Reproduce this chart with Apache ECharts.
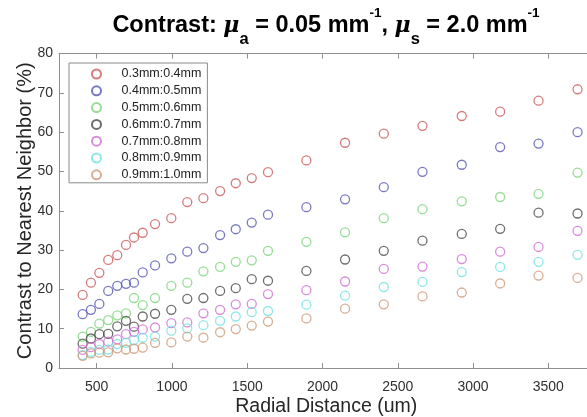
<!DOCTYPE html>
<html><head><meta charset="utf-8">
<script src="https://cdn.jsdelivr.net/npm/echarts@6/dist/echarts.min.js"></script>
<style>html,body{margin:0;padding:0;background:#fff}#c{width:587px;height:417px}</style>
</head><body><div id="c"></div>
<script>
// Radial distance positions (um)
const radialDistance = [407, 462, 518, 577, 637, 695, 748, 806, 888, 996, 1102, 1209, 1320, 1424, 1530, 1638, 1893, 2150, 2407, 2664, 2925, 3180, 3435, 3694];
// Contrast to nearest neighbor (%)
const c03_04 = [18.6, 21.7, 24.2, 27.5, 28.7, 31.3, 33.2, 34.4, 36.6, 38.1, 42.2, 43.2, 45.0, 47.0, 48.3, 49.8, 52.8, 57.3, 59.6, 61.6, 64.1, 65.2, 68.0, 70.9];
const c04_05 = [13.7, 14.8, 16.3, 19.6, 20.9, 21.4, 21.7, 24.3, 26.1, 27.9, 29.6, 30.5, 33.8, 35.3, 37.0, 39.0, 40.9, 42.9, 46.0, 49.9, 51.7, 56.2, 57.1, 60.0];
const c05_06 = [8.0, 9.2, 11.3, 12.2, 13.4, 13.9, 17.8, 16.0, 17.8, 20.9, 21.7, 24.6, 25.7, 27.0, 27.4, 29.8, 32.1, 34.5, 38.1, 40.4, 42.4, 43.5, 44.3, 49.7];
const c06_07 = [6.2, 7.5, 8.6, 8.7, 10.6, 12.0, 10.5, 13.1, 13.8, 14.8, 17.6, 17.8, 19.6, 20.3, 22.6, 22.2, 24.7, 27.6, 29.8, 32.4, 34.1, 35.4, 39.5, 39.3];
const c07_08 = [4.6, 5.3, 6.1, 6.7, 7.3, 8.6, 9.2, 9.8, 10.3, 11.4, 11.6, 13.9, 14.8, 16.2, 16.3, 18.8, 19.8, 22.0, 25.2, 25.8, 27.7, 29.6, 30.8, 34.9];
const c08_09 = [3.3, 4.1, 4.6, 4.7, 6.1, 6.4, 7.1, 7.7, 8.0, 9.5, 10.1, 10.9, 12.0, 13.1, 14.2, 14.5, 16.1, 18.4, 20.6, 21.9, 24.4, 25.7, 27.0, 28.8];
const c09_10 = [3.1, 3.7, 3.9, 4.0, 5.0, 4.7, 4.9, 5.2, 6.4, 6.5, 8.0, 7.7, 9.1, 9.9, 10.8, 11.8, 12.6, 15.1, 16.2, 18.2, 19.2, 21.5, 23.5, 22.9];
const seriesNames = ['0.3mm:0.4mm', '0.4mm:0.5mm', '0.5mm:0.6mm', '0.6mm:0.7mm', '0.7mm:0.8mm', '0.8mm:0.9mm', '0.9mm:1.0mm'];
const seriesValues = [c03_04, c04_05, c05_06, c06_07, c07_08, c08_09, c09_10];
const seriesColors = ['#cc5a5a', '#5858b4', '#7cd47c', '#4a4a4a', '#d26ed2', '#72e2e2', '#d09a7a'];
const xTickValues = [500, 1000, 1500, 2000, 2500, 3000, 3500];

const axisCol = '#8f8f8f';
const labelCol = '#303030';
const chart = echarts.init(document.getElementById('c'));

const series = seriesNames.map((name, i) => ({
  name, type: 'scatter', xAxisIndex: 0, yAxisIndex: 0,
  symbol: 'circle', symbolSize: 9,
  itemStyle: { color: 'rgba(255,255,255,0)', borderColor: seriesColors[i], borderWidth: 1.3 },
  emphasis: { disabled: true },
  data: radialDistance.map((x, k) => [x, seriesValues[i][k]])
}));

const sans = 'Liberation Sans';
chart.setOption({
  animation: false,
  backgroundColor: '#fff',
  title: {
    left: 321, top: 8, textAlign: 'center',
    text: '{t|Contrast: }{mu|μ}{sub|a}{t| = 0.05 mm}{sup|-1}{t|, }{mu|μ}{sub|s}{t| = 2.0 mm}{sup|-1}',
    textStyle: {
      rich: {
        t: { fontFamily: sans, fontWeight: 'bold', fontSize: 23.5, color: '#000', lineHeight: 26 },
        mu: { fontFamily: 'DejaVu Serif', fontStyle: 'italic', fontSize: 22, color: '#000', lineHeight: 26 },
        sub: { fontFamily: sans, fontWeight: 'bold', fontSize: 16.5, color: '#000', lineHeight: 18, padding: [26, 0, 0, 0] },
        sup: { fontFamily: sans, fontWeight: 'bold', fontSize: 13.5, color: '#000', lineHeight: 16, padding: [0, 0, 26, 0] }
      }
    }
  },
  legend: {
    orient: 'vertical', left: 69, top: 63,
    padding: [4, 6, 1, 22],
    itemWidth: 10, itemHeight: 9, itemGap: 2.8,
    backgroundColor: '#fff', borderColor: '#8a8a8a', borderWidth: 1, borderRadius: 0,
    textStyle: { fontFamily: sans, fontSize: 12.5, color: '#222', lineHeight: 14, padding: [0, 0, 0, 15] },
    data: seriesNames
  },
  grid: { left: 59, top: 53.5, width: 534.5, height: 314.5, containLabel: false, outerBoundsMode: 'none' },
  xAxis: [{
    type: 'value', position: 'bottom', min: 250, max: 3800,
    name: 'Radial Distance (um)', nameLocation: 'middle', nameGap: 28.5, nameMoveOverlap: false,
    nameTextStyle: { fontFamily: sans, fontSize: 19.5, color: '#262626' },
    axisLine: { show: true, lineStyle: { color: axisCol, width: 1 } },
    axisTick: { show: true, inside: true, length: 5, lineStyle: { color: axisCol }, customValues: xTickValues },
    axisLabel: { show: true, margin: 12, fontFamily: sans, fontSize: 14, color: labelCol, customValues: xTickValues, formatter: v => String(v) },
    splitLine: { show: false }
  }, {
    type: 'value', position: 'top', min: 250, max: 3800,
    axisLine: { show: true, onZero: false, lineStyle: { color: axisCol, width: 1 } },
    axisTick: { show: true, inside: true, length: 5, lineStyle: { color: axisCol }, customValues: xTickValues },
    axisLabel: { show: false },
    splitLine: { show: false }
  }],
  yAxis: [{
    type: 'value', min: 0, max: 80, interval: 10,
    name: 'Contrast to Nearest Neighbor (%)', nameLocation: 'middle', nameGap: 24, nameRotate: 90, nameMoveOverlap: false,
    nameTextStyle: { fontFamily: sans, fontSize: 20, color: '#262626' },
    axisLine: { show: true, lineStyle: { color: axisCol, width: 1 } },
    axisTick: { show: true, inside: true, length: 5, lineStyle: { color: axisCol } },
    axisLabel: { margin: 6, fontFamily: sans, fontSize: 14, color: labelCol },
    splitLine: { show: false }
  }],
  series
});
</script></body></html>
